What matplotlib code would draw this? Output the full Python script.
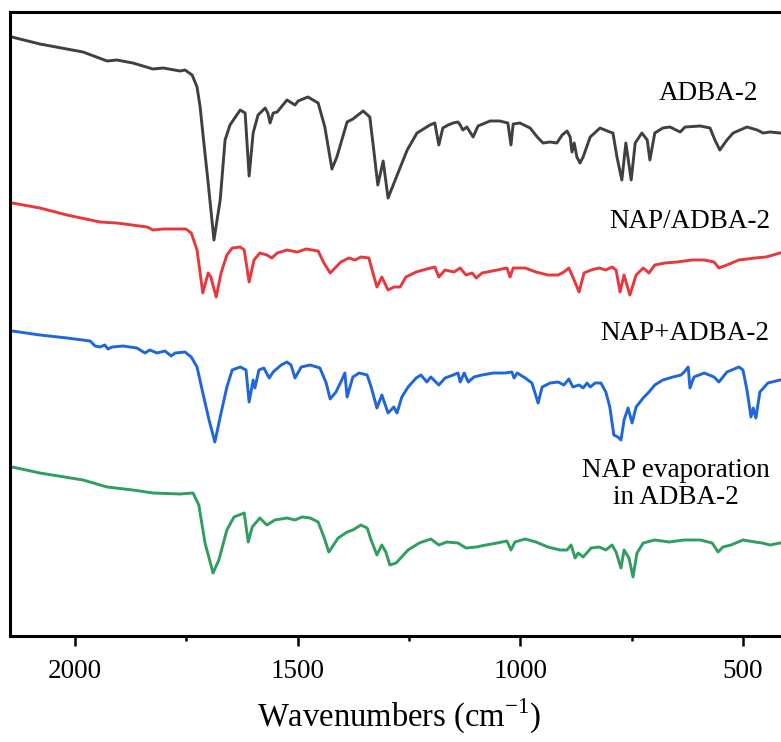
import matplotlib
matplotlib.use("Agg")
import matplotlib.pyplot as plt
from matplotlib.ticker import MultipleLocator
import numpy as np

plt.rcParams['font.family'] = ['Liberation Serif', 'DejaVu Serif']
plt.rcParams['mathtext.fontset'] = 'custom'
plt.rcParams['mathtext.rm'] = 'Liberation Serif'

# FTIR spectra, offset transmittance (a.u.) vs wavenumber (cm-1)
adba_wn = [2142, 2079, 1982, 1928, 1906, 1870, 1825, 1802, 1764, 1753, 1737, 1726, 1719, 1713,
           1701, 1688, 1674, 1663, 1652, 1629, 1618, 1609, 1600, 1589, 1573, 1567, 1562, 1555,
           1546, 1524, 1506, 1499, 1477, 1454, 1439, 1423, 1412, 1389, 1376, 1353, 1338, 1331,
           1320, 1308, 1297, 1281, 1254, 1232, 1203, 1192, 1183, 1174, 1162, 1151, 1140, 1135,
           1129, 1120, 1106, 1095, 1068, 1046, 1028, 1021, 1016, 1001, 978, 962, 949, 933, 918,
           906, 895, 888, 884, 879, 873, 866, 859, 843, 821, 799, 792, 783, 772, 763, 751, 742,
           727, 715, 709, 698, 680, 664, 641, 630, 596, 574, 563, 552, 536, 522, 491, 468, 455,
           439, 417, 401]
adba_t = [599, 592, 584, 575, 576, 573, 567, 568, 565, 566, 561, 549, 529, 503,
          453, 396, 436, 496, 511, 526, 523, 460, 503, 521, 528, 523, 513, 523,
          524, 536, 531, 535, 539, 533, 509, 467, 479, 514, 517, 525, 519, 493,
          451, 475, 438, 456, 486, 503, 511, 513, 491, 508, 511, 513, 514, 511,
          506, 509, 499, 510, 515, 515, 513, 491, 512, 513, 508, 499, 493, 494, 493,
          501, 505, 499, 484, 493, 479, 473, 479, 499, 508, 504, 503, 479, 456, 493, 456, 493,
          503, 496, 476, 503, 508, 509, 504, 509, 510, 508, 496, 486, 496, 503, 509, 506, 503,
          504, 503, 503]

nap_adba_wn = [2141, 2079, 2018, 1944, 1906, 1838, 1825, 1802, 1764, 1751, 1739, 1726, 1719,
               1713, 1701, 1695, 1683, 1672, 1659, 1647, 1629, 1620, 1609, 1598, 1585, 1569,
               1558, 1546, 1524, 1501, 1481, 1454, 1441, 1427, 1403, 1385, 1371, 1358, 1340,
               1331, 1322, 1311, 1297, 1284, 1270, 1257, 1234, 1210, 1192, 1183, 1169, 1149,
               1135, 1122, 1108, 1099, 1086, 1052, 1030, 1023, 1016, 989, 965, 938, 915, 902,
               891, 882, 868, 857, 841, 823, 808, 794, 785, 776, 767, 754, 740, 724, 711, 698,
               675, 648, 632, 614, 587, 565, 554, 536, 509, 473, 448, 417, 401]
nap_adba_t = [433, 428, 421, 414, 413, 409, 406, 407, 407, 407, 403, 386, 363,
              343, 363, 359, 339, 363, 381, 388, 389, 386, 354, 376, 383, 381,
              378, 383, 386, 384, 387, 385, 373, 363, 374, 378, 376, 379, 378,
              363, 349, 359, 346, 349, 349, 359, 364, 367, 369, 359, 366, 364,
              368, 361, 363, 358, 363, 366, 368, 359, 368, 368, 364, 361, 361, 364,
              368, 359, 344, 363, 366, 368, 366, 369, 366, 344, 361, 341, 361, 368, 363, 371,
              373, 374, 375, 376, 376, 374, 368, 371, 376, 378, 379, 383, 384]

nap_plus_wn = [2141, 2079, 2018, 1966, 1955, 1944, 1933, 1926, 1917, 1892, 1861, 1843, 1832,
               1816, 1798, 1784, 1775, 1753, 1739, 1726, 1713, 1699, 1686, 1672, 1659, 1647,
               1629, 1616, 1609, 1600, 1596, 1587, 1576, 1564, 1555, 1537, 1524, 1515, 1506,
               1492, 1472, 1450, 1436, 1427, 1414, 1403, 1394, 1389, 1376, 1362, 1344, 1335,
               1322, 1311, 1297, 1284, 1277, 1266, 1252, 1234, 1223, 1210, 1201, 1183, 1169,
               1151, 1140, 1135, 1126, 1117, 1104, 1086, 1061, 1034, 1019, 1014, 1007, 989,
               974, 960, 951, 933, 915, 902, 891, 882, 868, 859, 850, 843, 832, 819, 808, 799,
               790, 781, 774, 767, 758, 749, 740, 724, 711, 698, 680, 657, 639, 632, 623, 619,
               610, 587, 565, 554, 536, 509, 500, 491, 482, 477, 471, 462, 444, 417, 401]
nap_plus_t = [305, 301, 298, 295, 290, 289, 291, 287, 289, 290, 288, 283, 286,
              283, 285, 280, 283, 284, 279, 269, 243, 216, 194, 223, 249, 266,
              269, 266, 234, 256, 248, 266, 268, 258, 264, 271, 274, 271, 258,
              269, 271, 268, 253, 237, 244, 254, 263, 239, 259, 263, 261, 249,
              228, 241, 223, 229, 223, 239, 249, 258, 261, 254, 259, 251, 258,
              261, 263, 254, 263, 254, 259, 261, 263, 263, 264, 258, 263, 258,
              253, 233, 249, 253, 254, 251, 257, 249, 251, 248, 253, 249, 253, 253, 244, 229,
              201, 199, 196, 216, 228, 213, 229, 238, 244, 251, 256, 259, 261, 264, 269, 248,
              259, 263, 259, 254, 264, 269, 266, 246, 219, 228, 218, 244, 253, 256, 257]

nap_evap_wn = [2141, 2079, 1982, 1928, 1870, 1825, 1764, 1735, 1722, 1708, 1690, 1677, 1659,
               1643, 1620, 1611, 1602, 1585, 1569, 1551, 1524, 1506, 1490, 1472, 1454, 1441,
               1430, 1409, 1389, 1376, 1358, 1344, 1335, 1322, 1311, 1302, 1293, 1279, 1252,
               1227, 1201, 1183, 1165, 1140, 1122, 1099, 1077, 1052, 1030, 1021, 1012, 989,
               965, 938, 911, 895, 886, 877, 870, 859, 841, 823, 808, 794, 785, 774, 767, 756,
               747, 738, 724, 698, 666, 632, 596, 569, 556, 545, 527, 500, 473, 457, 439, 417,
               401]
nap_evap_t = [169, 163, 156, 149, 146, 143, 142, 143, 131, 93, 63, 76, 106,
              119, 123, 94, 109, 118, 111, 116, 118, 116, 119, 118, 114, 99,
              84, 98, 104, 106, 111, 108, 96, 81, 91, 84, 71, 73, 86,
              93, 97, 91, 94, 93, 88, 89, 91, 93, 95, 86, 94, 97,
              94, 89, 86, 86, 91, 78, 83, 79, 88, 89, 86, 91, 84, 68, 86, 78,
              59, 83, 93, 96, 94, 96, 96, 93, 84, 89, 91, 96, 94, 93, 91, 93,
              93]

W, H = 781, 742
fig = plt.figure(figsize=(W / 100, H / 100), dpi=100)
ax = fig.add_axes([10 / W, (H - 636) / H, 777.5 / W, 624 / H])

line_kw = dict(lw=2.1, solid_joinstyle='round', solid_capstyle='round')
ax.plot(adba_wn, adba_t, color='#404040', **line_kw)
ax.plot(nap_adba_wn, nap_adba_t, color='#e8383d', **line_kw)
ax.plot(nap_plus_wn, nap_plus_t, color='#1f66db', **line_kw)
ax.plot(nap_evap_wn, nap_evap_t, color='#2f9e5e', **line_kw)

ax.text(578, 543, 'ADBA-2', fontsize=19.5, ha='center', va='center')
ax.text(619, 415, 'NAP/ADBA-2', fontsize=19.5, ha='center', va='center')
ax.text(630, 303, 'NAP+ADBA-2', fontsize=19.5, ha='center', va='center')
ax.text(650, 152, 'NAP evaporation\nin ADBA-2', fontsize=19.5, ha='center', va='center',
        linespacing=1.15)

ax.set_xlim(2146, 400)
ax.set_ylim(0, 624)
ax.set_yticks([])
ax.xaxis.set_major_locator(MultipleLocator(500))
ax.xaxis.set_minor_locator(MultipleLocator(250))
ax.tick_params(axis='x', which='major', length=7.5, width=1.8, labelsize=19.5, pad=9, direction='out')
ax.tick_params(axis='x', which='minor', length=3.5, width=1.8, direction='out')
for s in ax.spines.values():
    s.set_linewidth(2.2)
ax.set_xlabel(r'Wavenumbers (cm$^{-1}$)', fontsize=23.5, labelpad=9)

fig.savefig('out.png', dpi=100)
